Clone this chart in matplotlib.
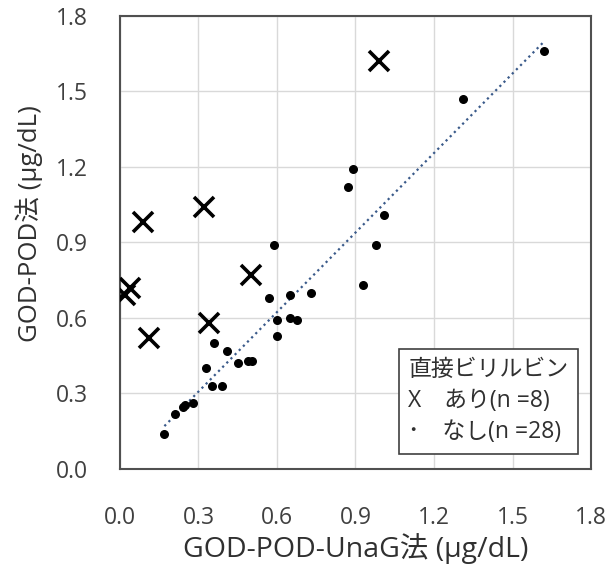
import matplotlib

matplotlib.use("Agg")
import matplotlib.pyplot as plt
import numpy as np

plt.rcParams["font.family"] = ["Open Sans", "Noto Sans CJK JP", "DejaVu Sans"]

# direct bilirubin present (x markers)
ari_x = [0.99, 0.32, 0.09, 0.04, 0.02, 0.11, 0.34, 0.50]
ari_y = [1.62, 1.04, 0.98, 0.72, 0.69, 0.52, 0.58, 0.77]

# direct bilirubin absent (dots)
nashi_x = [1.62, 1.31, 0.89, 0.87, 1.01, 0.59, 0.98, 0.93, 0.73, 0.65,
           0.57, 0.65, 0.675, 0.60, 0.60, 0.36, 0.41, 0.45, 0.49, 0.505,
           0.33, 0.35, 0.39, 0.28, 0.25, 0.24, 0.21, 0.17]
nashi_y = [1.66, 1.47, 1.19, 1.12, 1.01, 0.89, 0.89, 0.73, 0.70, 0.69,
           0.68, 0.60, 0.59, 0.59, 0.53, 0.50, 0.47, 0.42, 0.43, 0.43,
           0.40, 0.33, 0.33, 0.26, 0.255, 0.245, 0.22, 0.14]

ticks = [0.0, 0.3, 0.6, 0.9, 1.2, 1.5, 1.8]
tick_labels = ["0.0", "0.3", "0.6", "0.9", "1.2", "1.5", "1.8"]

legend_lines = ["直接ビリルビン", "X\u3000あり(n =8)", "\uff65\u3000なし(n =28)"]

fig = plt.figure(figsize=(6.15, 5.67), dpi=100)
ax = fig.add_axes([0.195, 0.173, 0.766, 0.799])

ax.grid(True, color="#d9d9d9", linewidth=1.0)
ax.set_axisbelow(True)

# linear trend of the "nashi" group
slope, intercept = np.polyfit(nashi_x, nashi_y, 1)
fit_x = np.array([min(nashi_x), max(nashi_x)])
ax.plot(fit_x, slope * fit_x + intercept, linestyle=":", color="#3a5a8a", linewidth=1.6, zorder=2)

ax.scatter(nashi_x, nashi_y, s=30, color="black", zorder=3)
ax.plot(ari_x, ari_y, linestyle="none", marker="x", markersize=14, markeredgewidth=2.6,
        color="black", zorder=4)

ax.set_xlim(0, 1.8)
ax.set_ylim(0, 1.8)
ax.set_xticks(ticks)
ax.set_xticklabels(tick_labels)
ax.set_yticks(ticks)
ax.set_yticklabels(tick_labels)
ax.tick_params(length=0, labelsize=16.5, colors="#404040")
ax.tick_params(axis="x", pad=27)
ax.tick_params(axis="y", pad=23)

for spine in ax.spines.values():
    spine.set_color("#505050")
    spine.set_linewidth(1.5)

ax.set_xlabel("GOD-POD-UnaG法 (μg/dL)", fontsize=20.5, color="#303030")
ax.set_ylabel("GOD-POD法 (μg/dL)", fontsize=18.5, color="#303030")
ax.xaxis.set_label_coords(0.5, -0.142)
ax.yaxis.set_label_coords(-0.163, 0.542)

ax.text(0.612, 0.055, "\n".join(legend_lines), transform=ax.transAxes, fontsize=16.5,
        va="bottom", ha="left", linespacing=1.38, color="#303030", zorder=5,
        bbox=dict(boxstyle="square,pad=0.42", facecolor="white", edgecolor="#404040", linewidth=1.2))

fig.savefig("out.png", dpi=100)
